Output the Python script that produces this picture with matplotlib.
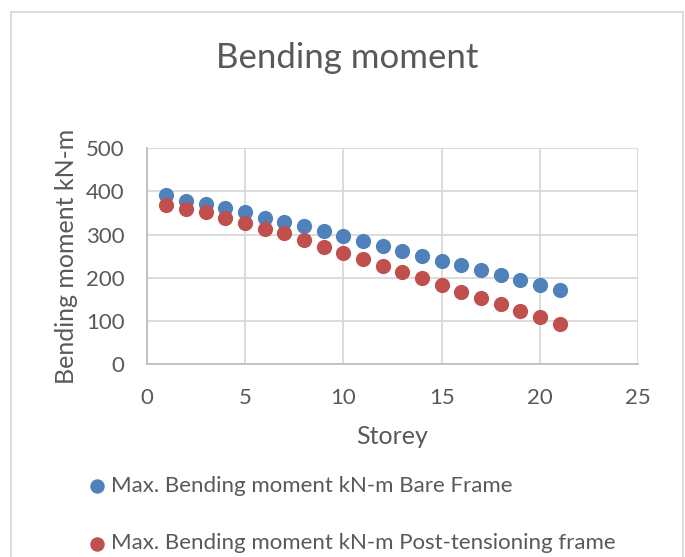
import matplotlib
matplotlib.use('Agg')
import matplotlib.pyplot as plt
from matplotlib.patches import Rectangle

# data
storey = list(range(1, 22))
bare_frame = [392, 378, 370, 361, 353, 338, 330, 319, 309, 297, 285,
              274, 263, 251, 240, 229, 218, 207, 195, 184, 173]
post_tension = [369, 360, 352, 339, 328, 312, 303, 288, 272, 257, 244,
                228, 214, 199, 184, 168, 153, 139, 123, 109, 94]

labels = ['Max. Bending moment kN-m Bare Frame',
          'Max. Bending moment kN-m Post-tensioning frame']
x_ticks = [0, 5, 10, 15, 20, 25]
y_ticks = [0, 100, 200, 300, 400, 500]

plt.rcParams['font.family'] = ['Lato', 'DejaVu Sans']
txt = '#595959'
grid_c = '#D9D9D9'

fig = plt.figure(figsize=(6.85, 5.57), dpi=100)
ax = fig.add_axes([0.2142, 0.346, 0.7176, 0.3878])

ax.scatter(storey, bare_frame, s=120, c='#4F81BD', lw=0, zorder=3, label=labels[0])
ax.scatter(storey, post_tension, s=120, c='#C0504D', lw=0, zorder=3, label=labels[1])

ax.set_xlim(0, 25)
ax.set_ylim(0, 500)
ax.set_xticks(x_ticks)
ax.set_yticks(y_ticks)
ax.grid(True, color=grid_c, lw=1.3)
ax.set_axisbelow(True)
for side in ['top', 'right']:
    ax.spines[side].set_visible(False)
for side in ['left', 'bottom']:
    ax.spines[side].set_color('#BFBFBF')
    ax.spines[side].set_linewidth(1.3)
ax.tick_params(length=0, labelsize=16, colors=txt)
ax.tick_params(axis='x', pad=17)
ax.tick_params(axis='y', pad=16)

ax.set_xlabel('Storey', fontsize=18, color=txt, labelpad=12)
ax.set_ylabel('Bending moment kN-m', fontsize=18, color=txt, labelpad=6)
fig.text(0.5066, 0.895, 'Bending moment', ha='center', va='center', fontsize=25, color=txt)

# legend rows drawn below the plot
fig.legend(loc='upper left', bbox_to_anchor=(0.129, 0.146), frameon=False,
           fontsize=16, labelcolor=txt, handlelength=0.8, handletextpad=0.2,
           labelspacing=1.7, borderaxespad=0, borderpad=0, markerscale=0.95,
           bbox_transform=fig.transFigure)

# chart border
fig.patches.append(Rectangle((11 / 685, -0.05), 672 / 685, 1.05 - 12 / 557,
                             transform=fig.transFigure, fill=False,
                             ec=grid_c, lw=1.3))

fig.savefig('out.png', dpi=100)
